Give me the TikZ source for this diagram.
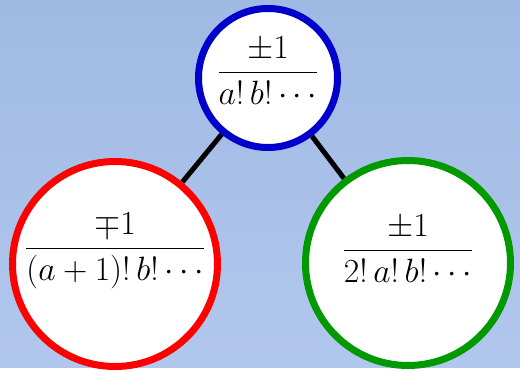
\documentclass[tikz,border=0pt]{standalone}
\usepackage{amsmath,amssymb}
\usepackage{graphicx}
\usepackage{xcolor}
\usepackage{tikz}
\usetikzlibrary{backgrounds}
\definecolor{skytop}{RGB}{160,186,228}
\definecolor{skybot}{RGB}{177,199,237}
\definecolor{ringblue}{RGB}{0,0,204}
\definecolor{ringred}{RGB}{255,0,0}
\definecolor{ringgreen}{RGB}{0,153,0}
\newcommand{\ringfrac}[3][0pt]{\raisebox{#1}[0pt][0pt]{\scalebox{1.95}{$\displaystyle\frac{#2}{#3}$}}}

\begin{document}
\begin{tikzpicture}[x=1pt,y=1pt,font=\fontsize{17.28}{20}\selectfont]
\tikzset{ring/.style={circle,draw,line width=7pt,fill=white,inner sep=0pt}}
\node[ring,draw=ringblue,minimum size=139pt] (root) at (268,290) {\ringfrac[-3pt]{\pm 1}{a!\,b!\cdots}};
\node[ring,draw=ringred,minimum size=205pt] (lower) at (115,104) {\ringfrac[7pt]{\mp 1}{(a+1)!\,b!\cdots}};
\node[ring,draw=ringgreen,minimum size=205pt] (double) at (408,105) {\ringfrac[4pt]{\pm 1}{2!\,a!\,b!\cdots}};
\begin{scope}[on background layer]
\shade[top color=skytop,bottom color=skybot] (0,0) rectangle (520,368);
\draw[line width=5pt] (root) -- (lower);
\draw[line width=5pt] (root) -- (double);
\end{scope}
\end{tikzpicture}
\end{document}
